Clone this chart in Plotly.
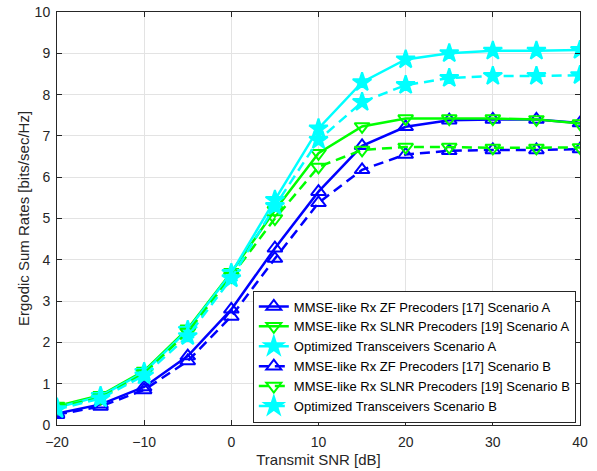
import plotly.graph_objects as go

snr = [-20, -15, -10, -5, 0, 5, 10, 15, 20, 25, 30, 35, 40]

zf_a = [0.28, 0.50, 0.92, 1.67, 2.80, 4.28, 5.65, 6.76, 7.22, 7.38, 7.40, 7.40, 7.31]
slnr_a = [0.46, 0.72, 1.31, 2.33, 3.70, 5.20, 6.58, 7.23, 7.42, 7.42, 7.42, 7.40, 7.30]
opt_a = [0.42, 0.70, 1.28, 2.30, 3.68, 5.45, 7.18, 8.30, 8.85, 9.00, 9.06, 9.06, 9.08]
zf_b = [0.25, 0.45, 0.85, 1.55, 2.63, 4.03, 5.38, 6.18, 6.55, 6.64, 6.66, 6.66, 6.68]
slnr_b = [0.43, 0.66, 1.25, 2.25, 3.60, 5.00, 6.25, 6.66, 6.73, 6.73, 6.71, 6.71, 6.72]
opt_b = [0.38, 0.64, 1.20, 2.15, 3.55, 5.30, 6.90, 7.82, 8.23, 8.40, 8.45, 8.45, 8.47]

names = [
    "MMSE-like Rx ZF Precoders [17] Scenario A",
    "MMSE-like Rx SLNR Precoders [19] Scenario A",
    "Optimized Transceivers Scenario A",
    "MMSE-like Rx ZF Precoders [17] Scenario B",
    "MMSE-like Rx SLNR Precoders [19] Scenario B",
    "Optimized Transceivers Scenario B",
]

BLUE = "#0000ff"
GREEN = "#00ff00"
CYAN = "#00ffff"
DASH = "10px,6px"

series = [
    (zf_a, BLUE, "solid", "triangle-up-open", 13),
    (slnr_a, GREEN, "solid", "triangle-down-open", 13),
    (opt_a, CYAN, "solid", "star", 14),
    (zf_b, BLUE, DASH, "triangle-up-open", 13),
    (slnr_b, GREEN, DASH, "triangle-down-open", 13),
    (opt_b, CYAN, DASH, "star", 14),
]

FONT = "Liberation Sans, Arial"

fig = go.Figure()
for (vals, col, dash, sym, sz), nm in zip(series, names):
    fig.add_trace(go.Scatter(
        x=snr, y=vals, name=nm, mode="lines+markers",
        line=dict(color=col, width=2.5, dash=dash),
        marker=dict(symbol=sym, size=sz, color=col, line=dict(color=col, width=2)),
    ))

axis_common = dict(
    showline=True, linecolor="#262626", linewidth=1, mirror="ticks",
    ticks="inside", ticklen=5, tickcolor="#262626",
    showgrid=True, gridcolor="#e3e3e3", gridwidth=1, zeroline=False,
    automargin=False,
    tickfont=dict(family=FONT, size=14, color="#262626"),
    title_font=dict(family=FONT, size=15, color="#262626"),
)

fig.update_xaxes(range=[-20, 40], dtick=10, tick0=-20, ticklabelstandoff=4,
                 title_text="Transmit SNR [dB]", title_standoff=5, **axis_common)
fig.update_yaxes(range=[0, 10], dtick=1, tick0=0, ticklabelstandoff=3,
                 title_text="Ergodic Sum Rates [bits/sec/Hz]", title_standoff=1, **axis_common)

fig.update_layout(
    width=597, height=471,
    margin=dict(l=57, r=17, t=12, b=46, autoexpand=False),
    paper_bgcolor="white", plot_bgcolor="white",
    font=dict(family=FONT, size=13, color="#262626"),
    legend=dict(
        x=0.992, y=0.006, xanchor="right", yanchor="bottom",
        bgcolor="white", bordercolor="#262626", borderwidth=1,
        font=dict(family=FONT, size=13, color="#000000"),
        itemwidth=30, tracegroupgap=0,
    ),
    showlegend=True,
)

fig.write_html("out.html", config={"displayModeBar": False},
               post_script="document.body.style.margin='0';")
